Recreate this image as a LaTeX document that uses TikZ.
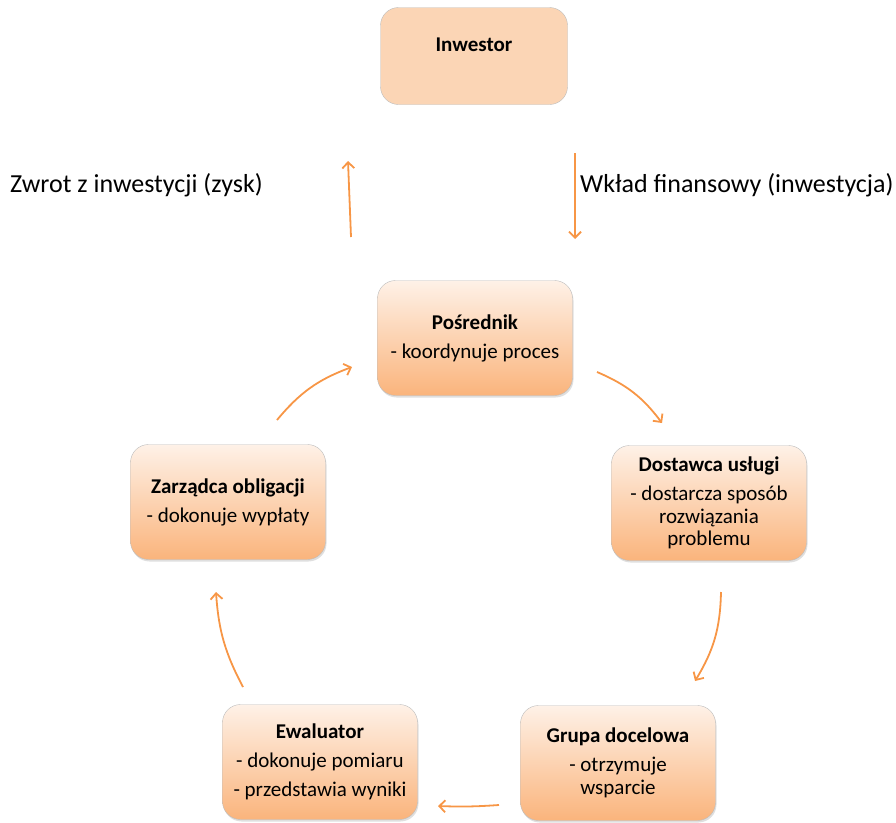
\documentclass[tikz,border=0pt]{standalone}
\usepackage{fontspec}
\setmainfont{Carlito}
\usetikzlibrary{arrows.meta,shadows}
\definecolor{peach}{HTML}{FBD5B5}
\definecolor{peachtop}{HTML}{FEF1E7}
\definecolor{peachbot}{HTML}{FAB47C}
\definecolor{arrorange}{HTML}{F79646}
\definecolor{boxline}{HTML}{BDBDBD}

\begin{document}
\begin{tikzpicture}[x=1pt,y=-1pt,
  role/.style = {draw=boxline, rounded corners=18pt, top color=peachtop, bottom color=peachbot,
    minimum width=195pt, minimum height=115pt, align=center, inner xsep=2pt,
    font=\fontsize{21}{22.5}\selectfont,
    drop shadow={shadow xshift=1pt, shadow yshift=-2pt, opacity=0.25}},
  flow/.style = {draw=arrorange, line width=1.8pt, -{Straight Barb[length=6pt,width=12pt]}},
  flowlabel/.style = {anchor=west, inner sep=0pt, font=\fontsize{26}{30}\selectfont}]
	\useasboundingbox (0,0) rectangle (896,822);

	% investor at the top
	\node[draw=boxline, rounded corners=18pt, fill=peach, minimum width=187pt, minimum height=97pt,
	  font=\bfseries\fontsize{21}{24}\selectfont, text depth=22pt] (inw) at (474,56) {Inwestor};

	% money flows
	\node[flowlabel] (zwrot) at (10,185) {Zwrot z inwestycji (zysk)};
	\node[flowlabel] (wklad) at (580,185) {Wkład finansowy (inwestycja)};
	\coordinate (zw1) at (351,237);
	\coordinate (zw2) at (348,161);
	\coordinate (wk1) at (575,153);
	\coordinate (wk2) at (575,239);
	\draw[flow] (zw1) -- (zw2);
	\draw[flow] (wk1) -- (wk2);

	% the cycle
	\node[role] (posr) at (475,338) {\textbf{Pośrednik}\\[6.5pt]- koordynuje proces};
	\node[role] (dost) at (709,503) {\textbf{Dostawca usługi}\\[6.5pt]- dostarcza sposób\\rozwiązania\\problemu};
	\node[role] (grupa) at (618,763) {\textbf{Grupa docelowa}\\[6.5pt]- otrzymuje\\wsparcie};
	\node[role] (ewal) at (320,762) {\textbf{Ewaluator}\\[6.5pt]- dokonuje pomiaru\\[6.5pt]- przedstawia wyniki};
	\node[role] (zarz) at (228,502) {\textbf{Zarządca obligacji}\\[6.5pt]- dokonuje wypłaty};

	\coordinate (a1) at (597,372);
	\coordinate (a2) at (662,423);
	\coordinate (b1) at (721,592);
	\coordinate (b2) at (695,681);
	\coordinate (c1) at (499,805);
	\coordinate (c2) at (438,806);
	\coordinate (d1) at (243,687);
	\coordinate (d2) at (216,592);
	\coordinate (e1) at (277,420);
	\coordinate (e2) at (352,367);
	\draw[flow] (a1) to[bend left=15] (a2);
	\draw[flow] (b1) to[bend left=15] (b2);
	\draw[flow] (c1) to[bend left=3] (c2);
	\draw[flow] (d1) to[bend left=12] (d2);
	\draw[flow] (e1) to[bend left=15] (e2);
\end{tikzpicture}
\end{document}
